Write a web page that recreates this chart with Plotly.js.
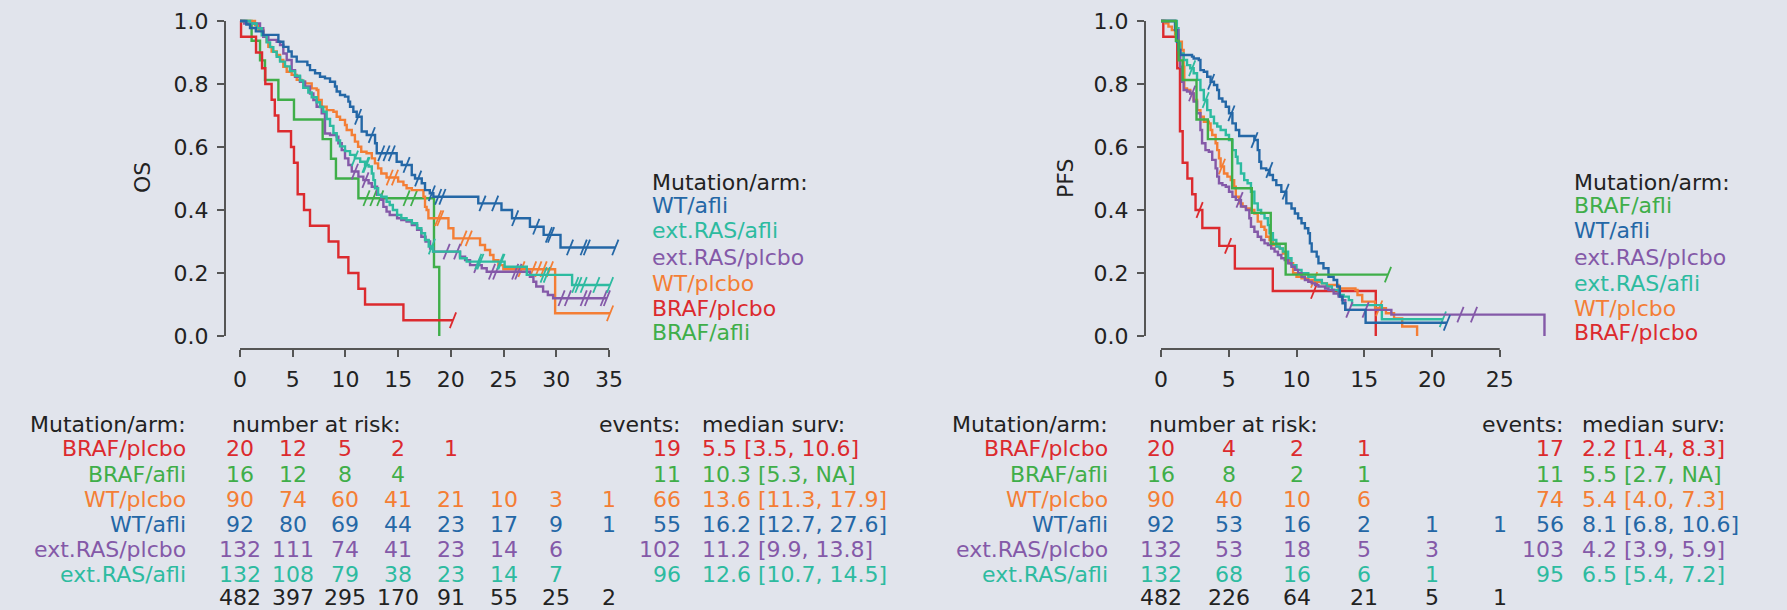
<!DOCTYPE html>
<html>
<head>
<meta charset="utf-8">
<script src="https://cdn.plot.ly/plotly-3.0.1.min.js"></script>
<style>html,body{margin:0;padding:0;background:#e1e4ec;}#chart{width:1787px;height:610px;}</style>
</head>
<body>
<div id="chart"></div>
<script>
// ---------------- DATA ----------------
const groups = ["BRAF/plcbo", "BRAF/afli", "WT/plcbo", "WT/afli", "ext.RAS/plcbo", "ext.RAS/afli"];
const groupColors = ["#dc2a2e", "#3fae49", "#f47e35", "#2467a6", "#8459a8", "#2dbba0"];
const osLegendOrder = ["WT/afli", "ext.RAS/afli", "ext.RAS/plcbo", "WT/plcbo", "BRAF/plcbo", "BRAF/afli"];
const pfsLegendOrder = ["BRAF/afli", "WT/afli", "ext.RAS/plcbo", "ext.RAS/afli", "WT/plcbo", "BRAF/plcbo"];

const osTicksX = [0, 5, 10, 15, 20, 25, 30, 35];
const pfsTicksX = [0, 5, 10, 15, 20, 25];
const survTicks = [0, 0.2, 0.4, 0.6, 0.8, 1.0];
const survTickText = ["0.0", "0.2", "0.4", "0.6", "0.8", "1.0"];

// OS curves: event times, survival after each event, end of follow-up, censor times
const os_braf_plcbo_t = [0.1,1.52,2.09,2.4,3.0,3.3,3.64,4.84,5.12,5.47,6.07,6.64,8.41,9.33,10.28,11.23,11.86,15.5];
const os_braf_plcbo_s = [0.95,0.90,0.85,0.80,0.75,0.70,0.65,0.60,0.55,0.45,0.40,0.35,0.30,0.25,0.20,0.15,0.10,0.05];
const os_braf_plcbo_end = 20.2;
const os_braf_plcbo_cens = [20.2];

const os_braf_afli_t = [1.1,1.9,2.37,3.64,5.12,7.84,8.63,9.1,11.23,18.4,18.9];
const os_braf_afli_s = [0.9375,0.875,0.8125,0.75,0.6875,0.625,0.5625,0.5,0.4375,0.219,0];
const os_braf_afli_end = 18.9;
const os_braf_afli_cens = [12.0,12.65,13.3,15.8,16.5];

const os_wt_plcbo_t = [1.42,1.74,2.21,2.53,2.69,3.0,3.48,3.8,4.11,4.43,4.9,5.38,5.85,6.17,6.8,7.27,7.43,7.75,8.22,8.86,9.17,9.49,9.96,10.12,10.6,10.9,11.2,11.5,12.0,12.5,12.8,13.1,13.4,13.9,15.0,15.5,15.8,16.3,17.4,17.55,17.7,17.87,19.77,20.24,22.77,23.24,23.72,24.04,24.51,24.98,29.89];
const os_wt_plcbo_s = [0.987,0.971,0.95,0.934,0.918,0.903,0.892,0.876,0.855,0.839,0.829,0.813,0.807,0.802,0.786,0.781,0.749,0.728,0.717,0.712,0.696,0.686,0.67,0.654,0.638,0.617,0.601,0.585,0.58,0.564,0.548,0.532,0.516,0.503,0.49,0.479,0.469,0.463,0.442,0.41,0.4,0.374,0.342,0.31,0.289,0.273,0.257,0.241,0.225,0.212,0.072];
const os_wt_plcbo_end = 35.1;
const os_wt_plcbo_cens = [14.2,14.7,18.8,19.0,21.2,21.7,26.7,27.8,28.3,28.8,29.4,35.1];

const os_wt_afli_t = [0.6,0.95,1.5,2.2,3.64,4.11,4.59,4.9,5.38,6.39,6.64,7.12,7.59,8.06,8.54,9.01,9.17,9.49,9.96,10.28,10.44,10.75,11.07,11.54,12.02,12.81,12.97,14.86,15.34,16.29,16.6,17.24,17.55,18.0,18.34,22.6,24.8,25.8,27.5,28.8,30.4];
const os_wt_afli_s = [0.989,0.978,0.967,0.956,0.934,0.918,0.903,0.887,0.871,0.86,0.844,0.834,0.823,0.818,0.807,0.792,0.776,0.765,0.76,0.744,0.728,0.712,0.696,0.649,0.638,0.612,0.58,0.553,0.543,0.511,0.5,0.485,0.463,0.453,0.442,0.421,0.4,0.374,0.347,0.321,0.281];
const os_wt_afli_end = 35.6;
const os_wt_afli_cens = [11.2,12.5,13.4,13.9,14.4,15.8,16.9,18.2,18.8,19.2,23.0,24.2,26.1,28.1,29.3,29.5,31.3,32.6,32.9,35.6];

const os_ext_plcbo_t = [0.4,1.9,2.21,2.69,3.48,3.8,4.11,4.43,4.9,5.22,5.69,6.17,6.64,6.96,7.27,7.75,8.06,8.54,9.17,9.33,9.65,9.96,10.28,10.6,11.23,11.7,12.2,12.5,13.0,13.4,13.6,13.9,14.2,14.9,15.3,15.8,16.3,16.8,17.2,17.6,18.03,18.34,20.87,21.35,21.82,22.93,23.4,27.5,27.83,28.1,28.75,29.2,29.7];
const os_ext_plcbo_s = [0.992,0.977,0.95,0.94,0.934,0.924,0.897,0.876,0.844,0.823,0.807,0.792,0.77,0.749,0.728,0.707,0.643,0.638,0.633,0.612,0.59,0.564,0.543,0.522,0.506,0.495,0.485,0.474,0.448,0.432,0.41,0.395,0.384,0.374,0.368,0.363,0.352,0.337,0.315,0.3,0.278,0.268,0.252,0.241,0.225,0.215,0.204,0.188,0.172,0.157,0.141,0.13,0.12];
const os_ext_plcbo_end = 34.8;
const os_ext_plcbo_cens = [10.9,11.9,19.6,20.6,22.5,23.9,24.3,26.1,26.4,30.5,31.1,32.6,33.0,34.5,34.8];

const os_ext_afli_t = [0.95,1.58,2.06,2.53,2.85,3.16,3.48,3.8,4.27,4.74,5.22,5.69,6.0,6.48,6.8,7.27,7.59,7.9,8.22,8.54,8.86,9.17,9.49,9.96,10.44,10.9,11.4,11.86,12.2,12.5,12.65,12.8,13.1,13.4,13.9,14.2,14.5,14.9,15.3,15.8,16.3,16.8,17.2,17.55,17.9,18.3,20.87,21.5,25.1,27.2,31.5];
const os_ext_afli_s = [0.992,0.977,0.955,0.932,0.917,0.902,0.886,0.871,0.856,0.841,0.826,0.811,0.788,0.773,0.758,0.742,0.727,0.712,0.689,0.667,0.644,0.621,0.602,0.587,0.575,0.564,0.553,0.543,0.538,0.516,0.495,0.469,0.448,0.442,0.426,0.416,0.4,0.384,0.374,0.368,0.358,0.342,0.326,0.305,0.284,0.268,0.247,0.236,0.22,0.194,0.162];
const os_ext_afli_end = 35.1;
const os_ext_afli_cens = [10.9,11.9,12.0,18.2,22.6,22.8,24.7,24.8,28.8,29.1,31.8,32.1,32.6,33.8,35.1];

// PFS curves
const pfs_braf_plcbo_t = [0.17,1.2,1.4,1.6,1.95,2.3,2.55,3.05,4.3,5.45,8.25,15.85];
const pfs_braf_plcbo_s = [0.95,0.85,0.65,0.55,0.5,0.45,0.4,0.343,0.286,0.214,0.143,0];
const pfs_braf_plcbo_end = 15.85;
const pfs_braf_plcbo_cens = [2.85,4.95,11.3];

const pfs_braf_afli_t = [1.1,1.3,1.6,2.62,3.46,5.25,6.7,8.1,9.2];
const pfs_braf_afli_s = [0.9375,0.875,0.8125,0.6875,0.625,0.469,0.391,0.293,0.195];
const pfs_braf_afli_end = 16.75;
const pfs_braf_afli_cens = [16.75];

const pfs_wt_plcbo_t = [0.3,0.55,0.8,1.04,1.29,1.54,1.67,1.72,1.92,2.16,2.41,2.66,2.91,3.16,3.53,3.66,3.78,4.03,4.15,4.28,4.4,4.65,4.9,5.15,5.4,5.52,5.77,6.02,6.27,6.64,6.89,7.14,7.39,7.64,7.76,8.01,8.26,8.51,8.76,9.0,9.25,9.5,9.75,10.0,10.37,10.87,11.37,11.87,12.24,13.1,14.35,14.5,14.85,15.8,16.6,17.2,17.8,18.9];
const pfs_wt_plcbo_s = [0.993,0.982,0.971,0.956,0.934,0.908,0.855,0.786,0.781,0.77,0.749,0.717,0.696,0.68,0.675,0.654,0.638,0.612,0.59,0.564,0.538,0.516,0.506,0.495,0.474,0.442,0.421,0.411,0.405,0.4,0.389,0.363,0.347,0.337,0.315,0.305,0.289,0.284,0.278,0.262,0.241,0.231,0.199,0.188,0.183,0.178,0.172,0.167,0.162,0.151,0.146,0.13,0.109,0.088,0.072,0.056,0.03,0];
const pfs_wt_plcbo_end = 18.9;
const pfs_wt_plcbo_cens = [4.5,11.3,16.1];

const pfs_wt_afli_t = [1.04,1.17,1.29,1.42,2.29,2.41,2.79,2.91,3.16,3.41,3.66,3.91,4.15,4.28,4.53,4.78,5.02,5.27,5.52,5.77,6.89,7.14,7.26,7.39,7.76,8.01,8.26,8.51,8.88,9.25,9.63,9.88,10.12,10.37,10.62,10.87,10.99,11.12,11.49,11.62,11.99,12.36,12.74,13.0,13.2,13.4,13.6,15.1];
const pfs_wt_afli_s = [0.971,0.934,0.908,0.892,0.887,0.881,0.876,0.844,0.839,0.823,0.807,0.797,0.781,0.754,0.744,0.728,0.707,0.675,0.654,0.635,0.622,0.59,0.553,0.532,0.527,0.511,0.495,0.479,0.458,0.421,0.405,0.389,0.374,0.358,0.342,0.326,0.294,0.268,0.252,0.231,0.215,0.188,0.178,0.157,0.125,0.104,0.083,0.042];
const pfs_wt_afli_end = 21.1;
const pfs_wt_afli_cens = [3.7,5.2,6.9,8.0,9.2,21.1];

const pfs_ext_plcbo_t = [1.04,1.29,1.42,1.54,1.67,1.92,2.16,2.41,2.66,2.91,3.03,3.28,3.53,3.78,4.03,4.15,4.28,4.53,4.78,5.02,5.27,5.52,5.9,6.27,6.52,6.64,6.89,7.14,7.39,7.64,7.89,8.13,8.38,8.63,8.88,9.13,9.38,9.63,9.88,10.12,10.37,10.62,10.87,11.12,11.37,11.62,12.11,12.36,12.74,13.11,13.36,13.6,17.0,28.3];
const pfs_ext_plcbo_s = [0.971,0.908,0.855,0.807,0.781,0.776,0.77,0.744,0.707,0.654,0.612,0.59,0.585,0.559,0.532,0.506,0.485,0.479,0.474,0.458,0.442,0.432,0.411,0.4,0.374,0.347,0.331,0.315,0.305,0.294,0.289,0.278,0.268,0.257,0.247,0.241,0.231,0.22,0.21,0.199,0.188,0.178,0.172,0.167,0.162,0.157,0.151,0.146,0.135,0.125,0.114,0.083,0.068,0];
const pfs_ext_plcbo_end = 28.3;
const pfs_ext_plcbo_cens = [2.3,5.8,13.9,15.1,22.1,23.1];

const pfs_ext_afli_t = [1.17,1.29,1.42,1.67,1.92,2.16,2.41,2.66,2.91,3.16,3.41,3.66,3.91,4.15,4.4,4.78,5.02,5.27,5.52,5.65,5.9,6.14,6.39,6.64,6.89,7.14,7.39,7.64,7.89,8.01,8.26,8.51,8.76,9.0,9.38,9.63,10.0,10.37,10.87,11.37,11.87,12.24,12.61,13.11,13.48,13.86,14.1,16.3];
const pfs_ext_afli_s = [0.977,0.929,0.897,0.876,0.86,0.85,0.834,0.813,0.781,0.749,0.717,0.696,0.675,0.665,0.654,0.638,0.622,0.59,0.569,0.548,0.516,0.495,0.485,0.458,0.421,0.4,0.389,0.374,0.352,0.326,0.305,0.284,0.278,0.268,0.247,0.225,0.21,0.199,0.188,0.178,0.167,0.157,0.146,0.13,0.125,0.114,0.098,0.053];
const pfs_ext_afli_end = 20.8;
const pfs_ext_afli_cens = [2.3,3.3,20.8];

// Risk table
const osRisk = [[20,12,5,2,1],[16,12,8,4],[90,74,60,41,21,10,3,1],[92,80,69,44,23,17,9,1],[132,111,74,41,23,14,6],[132,108,79,38,23,14,7]];
const osRiskTotal = [482,397,295,170,91,55,25,2];
const osEvents = [19,11,66,55,102,96];
const osMedian = ["5.5 [3.5, 10.6]","10.3 [5.3, NA]","13.6 [11.3, 17.9]","16.2 [12.7, 27.6]","11.2 [9.9, 13.8]","12.6 [10.7, 14.5]"];

const pfsRisk = [[20,4,2,1],[16,8,2,1],[90,40,10,6],[92,53,16,2,1,1],[132,53,18,5,3],[132,68,16,6,1]];
const pfsRiskTotal = [482,226,64,21,5,1];
const pfsEvents = [17,11,74,56,103,95];
const pfsMedian = ["2.2 [1.4, 8.3]","5.5 [2.7, NA]","5.4 [4.0, 7.3]","8.1 [6.8, 10.6]","4.2 [3.9, 5.9]","6.5 [5.4, 7.2]"];

// ---------------- BUILD ----------------
const W = 1787, H = 610;
const FONT = "DejaVu Sans";
const FS = 22;
const TXT = "#222222";
const AX = "#555555";
const px = v => v / W;
const py = v => 1 - v / H;

const osCurves = [
  [os_braf_plcbo_t, os_braf_plcbo_s, os_braf_plcbo_end, os_braf_plcbo_cens],
  [os_braf_afli_t, os_braf_afli_s, os_braf_afli_end, os_braf_afli_cens],
  [os_wt_plcbo_t, os_wt_plcbo_s, os_wt_plcbo_end, os_wt_plcbo_cens],
  [os_wt_afli_t, os_wt_afli_s, os_wt_afli_end, os_wt_afli_cens],
  [os_ext_plcbo_t, os_ext_plcbo_s, os_ext_plcbo_end, os_ext_plcbo_cens],
  [os_ext_afli_t, os_ext_afli_s, os_ext_afli_end, os_ext_afli_cens]
];
const pfsCurves = [
  [pfs_braf_plcbo_t, pfs_braf_plcbo_s, pfs_braf_plcbo_end, pfs_braf_plcbo_cens],
  [pfs_braf_afli_t, pfs_braf_afli_s, pfs_braf_afli_end, pfs_braf_afli_cens],
  [pfs_wt_plcbo_t, pfs_wt_plcbo_s, pfs_wt_plcbo_end, pfs_wt_plcbo_cens],
  [pfs_wt_afli_t, pfs_wt_afli_s, pfs_wt_afli_end, pfs_wt_afli_cens],
  [pfs_ext_plcbo_t, pfs_ext_plcbo_s, pfs_ext_plcbo_end, pfs_ext_plcbo_cens],
  [pfs_ext_afli_t, pfs_ext_afli_s, pfs_ext_afli_end, pfs_ext_afli_cens]
];

function stepAt(ts, ss, t) {
  let v = 1;
  for (let i = 0; i < ts.length; i++) { if (ts[i] <= t) v = ss[i]; }
  return v;
}

const traces = [];
function addCurves(curves, xa, ya, order) {
  order.forEach(name => {
    const gi = groups.indexOf(name);
    const [ts, ss, end, cens] = curves[gi];
    const col = groupColors[gi];
    const x = [0].concat(ts), y = [1].concat(ss);
    if (end > ts[ts.length - 1]) { x.push(end); y.push(ss[ss.length - 1]); }
    traces.push({type: "scatter", mode: "lines", x: x, y: y, xaxis: xa, yaxis: ya,
      line: {shape: "hv", color: col, width: 2.4}, hoverinfo: "skip", showlegend: false, name: name});
    traces.push({type: "scatter", mode: "markers", x: cens, y: cens.map(t => stepAt(ts, ss, t)),
      xaxis: xa, yaxis: ya, cliponaxis: false,
      marker: {symbol: "line-ns", size: 12, angle: 22, color: col, line: {color: col, width: 1.8}},
      hoverinfo: "skip", showlegend: false, name: name + " censored"});
  });
}
addCurves(osCurves, "x", "y", osLegendOrder.slice().reverse());
addCurves(pfsCurves, "x2", "y2", pfsLegendOrder.slice().reverse());

const ann = [];
function txt(x, y, s, color, anchor, xref) {
  ann.push({x: x, y: y, xref: xref || "paper", yref: "paper", text: s, showarrow: false,
    xanchor: anchor, yanchor: "middle", font: {family: FONT, size: FS, color: color}});
}
// axis titles
ann.push({x: px(143), y: py(178), xref: "paper", yref: "paper", text: "OS", textangle: -90, showarrow: false,
  xanchor: "center", yanchor: "middle", font: {family: FONT, size: FS, color: TXT}});
ann.push({x: px(1066), y: py(178), xref: "paper", yref: "paper", text: "PFS", textangle: -90, showarrow: false,
  xanchor: "center", yanchor: "middle", font: {family: FONT, size: FS, color: TXT}});

// legends
const legY = [205, 231, 257, 283, 308, 332];
txt(px(650), py(182), "Mutation/arm:", TXT, "left");
osLegendOrder.forEach((n, i) => txt(px(650), py(legY[i]), n, groupColors[groups.indexOf(n)], "left"));
txt(px(1572), py(182), "Mutation/arm:", TXT, "left");
pfsLegendOrder.forEach((n, i) => txt(px(1572), py(legY[i]), n, groupColors[groups.indexOf(n)], "left"));

// risk tables
const rowY = [449, 474, 499, 524, 549, 574];
const headY = 424, totY = 597;
function table(risk, tot, events, med, ticks, xref, labelX, riskX, evX, medX) {
  txt(px(labelX), py(headY), "Mutation/arm:", TXT, "right");
  txt(px(riskX), py(headY), "number at risk:", TXT, "left");
  txt(px(evX), py(headY), "events:", TXT, "right");
  txt(px(medX), py(headY), "median surv:", TXT, "left");
  groups.forEach((g, i) => {
    const c = groupColors[i];
    txt(px(labelX), py(rowY[i]), g, c, "right");
    risk[i].forEach((v, j) => txt(ticks[j], py(rowY[i]), String(v), c, "center", xref));
    txt(px(evX), py(rowY[i]), String(events[i]), c, "right");
    txt(px(medX), py(rowY[i]), med[i], c, "left");
  });
  tot.forEach((v, j) => txt(ticks[j], py(totY), String(v), TXT, "center", xref));
}
table(osRisk, osRiskTotal, osEvents, osMedian, osTicksX, "x", 188, 230, 683, 700);
table(pfsRisk, pfsRiskTotal, pfsEvents, pfsMedian, pfsTicksX, "x2", 1110, 1147, 1566, 1580);

const PX2 = 13.55;
const axisCommon = {showgrid: false, zeroline: false, showline: false, ticks: "outside", ticklen: 7,
  tickwidth: 2, tickcolor: AX, tickfont: {family: FONT, size: FS, color: TXT}, fixedrange: true};
const yDom = [1 - 349 / H, 1 - 10 / H];
const layout = {
  width: W, height: H, margin: {l: 0, r: 0, t: 0, b: 0},
  paper_bgcolor: "#e1e4ec", plot_bgcolor: "#e1e4ec",
  font: {family: FONT, size: FS, color: TXT},
  showlegend: false,
  xaxis: Object.assign({}, axisCommon, {domain: [px(225), px(630)], range: [-15 / 10.543, (630 - 240) / 10.543],
    tickvals: osTicksX, anchor: "y", ticklabelstandoff: 4}),
  yaxis: Object.assign({}, axisCommon, {domain: yDom, range: [-13 / 315, 326 / 315],
    tickvals: survTicks, ticktext: survTickText, anchor: "x", ticklabelstandoff: 4}),
  xaxis2: Object.assign({}, axisCommon, {domain: [px(1145), px(1565)], range: [-16 / PX2, (1565 - 1161) / PX2],
    tickvals: pfsTicksX, anchor: "y2", ticklabelstandoff: 4}),
  yaxis2: Object.assign({}, axisCommon, {domain: yDom, range: [-13 / 315, 326 / 315],
    tickvals: survTicks, ticktext: survTickText, anchor: "x2", ticklabelstandoff: 4}),
  shapes: [
    {type: "line", xref: "x", yref: "y domain", x0: 0, x1: 35, y0: 0, y1: 0, line: {color: AX, width: 2}},
    {type: "line", xref: "x domain", yref: "y", x0: 0, x1: 0, y0: 0, y1: 1, line: {color: AX, width: 2}},
    {type: "line", xref: "x2", yref: "y2 domain", x0: 0, x1: 25, y0: 0, y1: 0, line: {color: AX, width: 2}},
    {type: "line", xref: "x2 domain", yref: "y2", x0: 0, x1: 0, y0: 0, y1: 1, line: {color: AX, width: 2}}
  ],
  annotations: ann
};
Plotly.newPlot("chart", traces, layout, {displayModeBar: false, staticPlot: true});
</script>
</body>
</html>
